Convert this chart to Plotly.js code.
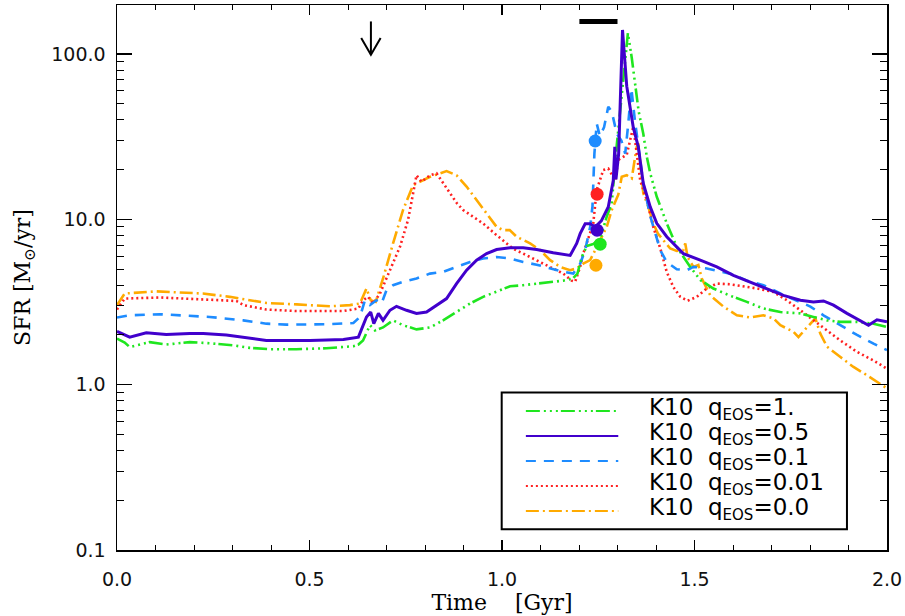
<!DOCTYPE html>
<html>
<head>
<meta charset="utf-8">
<script src="https://cdn.plot.ly/plotly-3.0.1.min.js"></script>
<style>html,body{margin:0;padding:0;background:#fff;}#chart{width:905px;height:616px;}</style>
</head>
<body>
<div id="chart"></div>
<script>
// ---- data (Time in Gyr, SFR in Msun/yr) ----
const greenT = [0, 0.020, 0.033, 0.085, 0.128, 0.189, 0.241, 0.302, 0.345, 0.397, 0.466, 0.544, 0.614, 0.627, 0.639, 0.648, 0.657, 0.670, 0.691, 0.717, 0.743, 0.778, 0.813, 0.847, 0.882, 0.917, 0.951, 0.986, 1.021, 1.055, 1.090, 1.125, 1.159, 1.184, 1.196, 1.207, 1.220, 1.237, 1.255, 1.272, 1.285, 1.298, 1.311, 1.320, 1.327, 1.337, 1.346, 1.355, 1.367, 1.376, 1.385, 1.402, 1.428, 1.454, 1.489, 1.515, 1.549, 1.593, 1.636, 1.679, 1.723, 1.775, 1.809, 1.844, 1.879, 1.922, 1.965, 2.000];
const greenSFR = [1.90, 1.80, 1.69, 1.81, 1.75, 1.81, 1.78, 1.73, 1.67, 1.64, 1.64, 1.66, 1.71, 1.75, 1.85, 2.05, 2.29, 2.13, 2.22, 2.45, 2.29, 2.16, 2.22, 2.45, 2.75, 3.10, 3.40, 3.64, 3.94, 4.00, 4.09, 4.19, 4.26, 4.39, 4.70, 5.90, 6.90, 7.10, 7.60, 10.4, 12.5, 28.0, 55.0, 88.0, 134, 95.0, 63.7, 45.0, 33.0, 24.0, 19.0, 13.7, 9.46, 6.82, 5.16, 4.30, 3.82, 3.45, 3.17, 2.89, 2.75, 2.70, 2.57, 2.45, 2.40, 2.40, 2.34, 2.23];

const purpleT = [0, 0.033, 0.076, 0.128, 0.189, 0.224, 0.284, 0.345, 0.388, 0.501, 0.588, 0.627, 0.639, 0.648, 0.659, 0.667, 0.679, 0.691, 0.709, 0.726, 0.752, 0.778, 0.804, 0.830, 0.856, 0.882, 0.908, 0.934, 0.960, 0.986, 1.021, 1.055, 1.090, 1.133, 1.177, 1.194, 1.203, 1.216, 1.229, 1.242, 1.258, 1.276, 1.289, 1.293, 1.296, 1.303, 1.313, 1.324, 1.329, 1.341, 1.354, 1.367, 1.385, 1.402, 1.428, 1.471, 1.515, 1.558, 1.601, 1.645, 1.688, 1.731, 1.775, 1.809, 1.835, 1.861, 1.896, 1.931, 1.952, 1.974, 2.000];
const purpleSFR = [2.10, 1.94, 2.06, 2.01, 2.04, 2.04, 2.00, 1.90, 1.85, 1.85, 1.88, 1.94, 2.30, 2.57, 2.75, 2.34, 2.70, 2.45, 2.82, 2.98, 2.82, 2.70, 2.75, 3.03, 3.32, 4.09, 4.93, 5.67, 6.21, 6.57, 6.74, 6.74, 6.57, 6.29, 6.05, 7.16, 8.20, 9.40, 9.40, 9.00, 9.80, 11.9, 17.2, 27.5, 17.5, 25.0, 140, 64.0, 53.0, 36.0, 27.5, 16.5, 11.9, 9.46, 7.85, 6.21, 5.67, 5.16, 4.59, 4.19, 3.82, 3.47, 3.24, 3.17, 3.21, 3.03, 2.70, 2.45, 2.29, 2.47, 2.40];

const blueT = [0, 0.033, 0.111, 0.241, 0.328, 0.388, 0.440, 0.544, 0.614, 0.631, 0.644, 0.657, 0.674, 0.687, 0.700, 0.717, 0.743, 0.778, 0.813, 0.847, 0.882, 0.917, 0.951, 0.986, 1.021, 1.055, 1.090, 1.125, 1.159, 1.185, 1.203, 1.216, 1.229, 1.235, 1.240, 1.246, 1.254, 1.265, 1.276, 1.285, 1.298, 1.310, 1.320, 1.328, 1.336, 1.345, 1.354, 1.367, 1.385, 1.400, 1.411, 1.428, 1.454, 1.480, 1.497, 1.532, 1.567, 1.601, 1.636, 1.679, 1.723, 1.766, 1.801, 1.835, 1.879, 1.922, 1.965, 2.000];
const blueSFR = [2.55, 2.63, 2.67, 2.57, 2.45, 2.34, 2.31, 2.32, 2.36, 2.57, 3.24, 3.03, 3.24, 3.10, 3.73, 4.00, 4.19, 4.39, 4.70, 4.82, 5.16, 5.52, 5.80, 5.92, 5.80, 5.52, 5.32, 5.05, 4.82, 4.70, 5.39, 6.52, 9.01, 12.0, 25.0, 38.0, 32.0, 36.0, 48.0, 45.0, 33.0, 30.0, 25.0, 38.0, 62.0, 40.0, 28.0, 16.5, 10.5, 8.0, 6.52, 5.52, 4.99, 4.93, 5.16, 5.05, 4.82, 4.64, 4.26, 4.00, 3.56, 3.24, 2.97, 2.63, 2.29, 2.00, 1.77, 1.62];

const redT = [0, 0.020, 0.111, 0.224, 0.310, 0.328, 0.388, 0.466, 0.588, 0.627, 0.639, 0.652, 0.665, 0.683, 0.709, 0.735, 0.756, 0.774, 0.778, 0.791, 0.813, 0.830, 0.843, 0.865, 0.882, 0.899, 0.925, 0.951, 0.986, 1.012, 1.029, 1.055, 1.090, 1.125, 1.159, 1.181, 1.190, 1.203, 1.211, 1.237, 1.246, 1.263, 1.276, 1.294, 1.302, 1.324, 1.341, 1.350, 1.359, 1.376, 1.393, 1.411, 1.428, 1.445, 1.463, 1.482, 1.506, 1.532, 1.558, 1.593, 1.627, 1.662, 1.705, 1.740, 1.775, 1.809, 1.844, 1.879, 1.922, 1.965, 2.000];
const redSFR = [2.85, 3.32, 3.37, 3.27, 3.21, 3.03, 2.85, 2.79, 2.79, 2.89, 3.24, 3.40, 3.10, 3.56, 4.93, 6.83, 9.93, 16.1, 18.5, 16.9, 18.5, 19.0, 17.2, 14.4, 12.6, 11.4, 10.4, 9.44, 8.03, 7.16, 6.64, 6.21, 5.67, 5.16, 4.70, 4.26, 4.20, 5.16, 6.21, 9.46, 15.1, 19.9, 20.3, 17.2, 22.9, 24.6, 36.4, 25.0, 17.2, 13.1, 9.00, 6.70, 4.80, 3.90, 3.40, 3.22, 3.40, 3.82, 4.09, 4.05, 3.94, 3.82, 3.64, 3.24, 2.82, 2.45, 2.13, 1.85, 1.58, 1.40, 1.25];

const orangeT = [0, 0.020, 0.102, 0.223, 0.293, 0.389, 0.467, 0.553, 0.605, 0.631, 0.648, 0.659, 0.672, 0.691, 0.717, 0.743, 0.769, 0.787, 0.813, 0.856, 0.882, 0.908, 0.934, 0.960, 0.986, 1.003, 1.020, 1.038, 1.073, 1.099, 1.125, 1.151, 1.177, 1.194, 1.211, 1.229, 1.255, 1.272, 1.285, 1.302, 1.311, 1.324, 1.337, 1.350, 1.354, 1.360, 1.367, 1.380, 1.393, 1.405, 1.419, 1.437, 1.454, 1.471, 1.476, 1.482, 1.497, 1.510, 1.519, 1.541, 1.575, 1.610, 1.645, 1.679, 1.705, 1.723, 1.757, 1.770, 1.792, 1.814, 1.827, 1.844, 1.879, 1.913, 1.948, 1.983, 2.000];
const orangeSFR = [3.03, 3.56, 3.67, 3.56, 3.40, 3.12, 3.06, 2.98, 3.03, 3.10, 3.82, 3.24, 3.17, 4.39, 7.16, 11.4, 16.1, 16.9, 18.1, 19.6, 18.5, 15.8, 13.1, 10.9, 9.01, 8.61, 8.61, 7.85, 7.16, 6.52, 5.67, 5.16, 4.93, 5.05, 5.40, 5.67, 7.50, 9.00, 11.4, 14.1, 18.1, 18.5, 17.7, 27.5, 28.8, 20.8, 14.4, 11.9, 9.46, 8.20, 7.50, 6.67, 6.45, 6.52, 7.16, 5.93, 5.16, 5.30, 4.39, 3.47, 2.97, 2.63, 2.55, 2.63, 2.52, 2.29, 2.09, 1.94, 2.22, 2.52, 2.03, 1.70, 1.47, 1.28, 1.14, 1.01, 0.95];

// filled circles (one per run)
const markerT = [1.242, 1.247, 1.247, 1.255, 1.244];
const markerSFR = [29.8, 14.2, 8.6, 7.08, 5.28];

// annotations: downward arrow and horizontal bar at top
const arrowShaftT = [0.6595, 0.6595];
const arrowShaftSFR = [157.6, 99.0];
const arrowHeadT = [0.6343, 0.6595, 0.6847];
const arrowHeadSFR = [125.0, 99.0, 125.0];
const barT = [1.201, 1.300];
const barSFR = [157.6, 157.6];

const legendValues = ['1.', '0.5', '0.1', '0.01', '0.0'];

// ---- styles ----
const C = {green: '#1fe61f', purple: '#4100cc', blue: '#1e8cff', red: '#ff2020', orange: '#ffaa00'};
const D = {
  green: '14px,4px,2px,4px,2px,4px,2px,3px',
  purple: 'solid',
  blue: '10px,8px',
  red: '2px,3px',
  orange: '13px,4px,2px,4px'
};

function line(x, y, col, dash, w) {
  return {x: x, y: y, type: 'scatter', mode: 'lines', line: {color: col, dash: dash, width: w}, hoverinfo: 'skip', showlegend: false};
}

const traces = [
  line(orangeT, orangeSFR, C.orange, D.orange, 2.6),
  line(redT, redSFR, C.red, D.red, 2.6),
  line(blueT, blueSFR, C.blue, D.blue, 2.6),
  line(greenT, greenSFR, C.green, D.green, 2.6),
  line(purpleT, purpleSFR, C.purple, D.purple, 3),
  {x: markerT, y: markerSFR, type: 'scatter', mode: 'markers',
   marker: {size: 13, color: [C.blue, C.red, C.purple, C.green, C.orange], line: {width: 0}},
   hoverinfo: 'skip', showlegend: false},
  line(arrowShaftT, arrowShaftSFR, '#000', 'solid', 2),
  line(arrowHeadT, arrowHeadSFR, '#000', 'solid', 2),
  line(barT, barSFR, '#000', 'solid', 5)
];

// ---- custom legend (paper coordinates) ----
const legCols = [C.green, C.purple, C.blue, C.red, C.orange];
const legDash = [D.green, D.purple, D.blue, D.red, D.orange];
const legY0 = 0.2552, legDy = 0.0459;
const shapes = [{type: 'rect', xref: 'paper', yref: 'paper', x0: 0.4996, x1: 0.948, y0: 0.038, y1: 0.2888,
  line: {color: '#000', width: 2}, fillcolor: '#fff', layer: 'above'}];
const annotations = [];
legendValues.forEach((v, i) => {
  const yy = legY0 - i * legDy;
  shapes.push({type: 'line', xref: 'paper', yref: 'paper', x0: 0.531, x1: 0.651, y0: yy, y1: yy,
    line: {color: legCols[i], dash: legDash[i], width: 2}, layer: 'above'});
  annotations.push({xref: 'paper', yref: 'paper', x: 0.688, y: yy + 0.004, xanchor: 'left', yanchor: 'middle',
    text: 'K10\u00a0 q<sub><span style="font-size:15px">EOS</span></sub>=' + v,
    showarrow: false, font: {family: 'DejaVu Sans', size: 23, color: '#000'}});
});

const layout = {
  width: 905, height: 616,
  margin: {l: 117, r: 18, t: 5, b: 66},
  paper_bgcolor: '#fff', plot_bgcolor: '#fff',
  showlegend: false,
  xaxis: {
    range: [0, 2], tick0: 0, dtick: 0.5, tickformat: '.1f',
    showline: true, linecolor: '#000', linewidth: 1.5, mirror: 'allticks',
    ticks: 'inside', ticklen: 10, tickwidth: 1.5, tickcolor: '#000',
    minor: {dtick: 0.1, ticks: 'inside', ticklen: 5, tickwidth: 1, tickcolor: '#000'},
    showgrid: false, zeroline: false,
    tickfont: {family: 'DejaVu Sans', size: 19, color: '#111'},
    ticklabelstandoff: 12,
    title: {text: 'Time\u00a0\u00a0\u00a0 [Gyr]', font: {family: 'DejaVu Serif', size: 22, color: '#000'}, standoff: 4}
  },
  yaxis: {
    type: 'log', range: [-1, 2.297], dtick: 1, tickformat: '.1f',
    showline: true, linecolor: '#000', linewidth: 1.5, mirror: 'allticks',
    ticks: 'inside', ticklen: 15, tickwidth: 1.5, tickcolor: '#000',
    minor: {dtick: 'D1', ticks: 'inside', ticklen: 7, tickwidth: 1, tickcolor: '#000'},
    showgrid: false, zeroline: false,
    tickfont: {family: 'DejaVu Sans', size: 19, color: '#111'},
    ticklabelstandoff: 6,
    title: {text: 'SFR [M<sub>⊙</sub>/yr]', font: {family: 'DejaVu Serif', size: 22, color: '#000'}, standoff: 14}
  },
  shapes: shapes,
  annotations: annotations
};

Plotly.newPlot('chart', traces, layout, {staticPlot: true, displayModeBar: false});
</script>
</body>
</html>
